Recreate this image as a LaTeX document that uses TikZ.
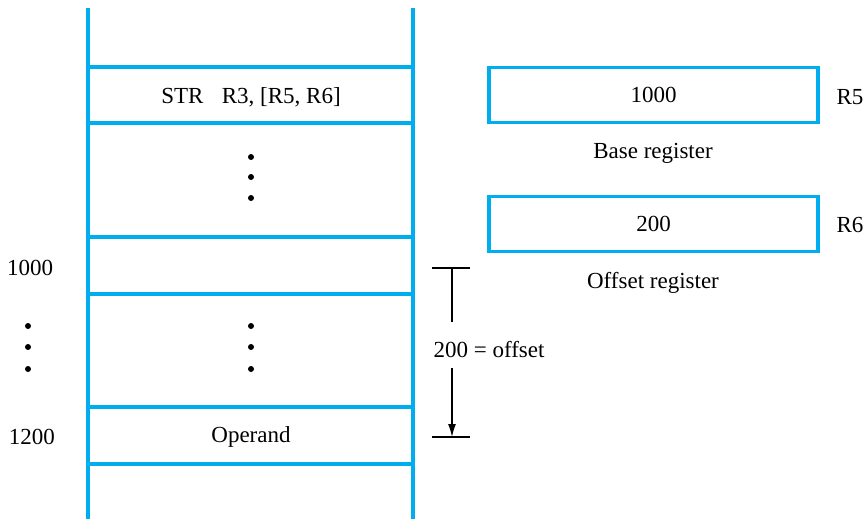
\documentclass[tikz,border=0pt]{standalone}
\usepackage{fontspec}
\setmainfont{Liberation Serif}
\usetikzlibrary{arrows.meta}
\definecolor{memblue}{HTML}{00AEEF}
\begin{document}
\begin{tikzpicture}[x=1pt,y=-1pt,
  memline/.style={draw=memblue,line width=3.5pt},
  lbl/.style={font=\fontsize{23}{26}\selectfont,inner sep=0pt,anchor=center},
  dotc/.style={circle,fill=black,inner sep=0pt,minimum size=6pt},
  dim/.style={draw=black,line width=1.3pt}]
\useasboundingbox (0,0) rectangle (865,519);
% memory columns
\draw[memline] (88,8) -- (88,519);
\draw[memline] (413,8) -- (413,519);
\foreach \y in {67,123,237,294,407,464} \draw[memline] (88,\y) -- (413,\y);
% memory contents
\node[lbl] (instr) at (251,97) {STR\hspace{0.8em}R3, [R5, R6]};
\node[dotc] (d1) at (251,157) {};
\node[dotc] (d2) at (251,177) {};
\node[dotc] (d3) at (251,198) {};
\node[dotc] (d4) at (251,326) {};
\node[dotc] (d5) at (251,347) {};
\node[dotc] (d6) at (251,369) {};
\node[lbl] (operand) at (251,437) {Operand};
% addresses
\node[lbl] (a1000) at (30,268) {1000};
\node[dotc] (l1) at (28,326) {};
\node[dotc] (l2) at (28,347) {};
\node[dotc] (l3) at (28,369) {};
\node[lbl] (a1200) at (32,437) {1200};
% registers
\node[memline,minimum width=329pt,minimum height=55pt,inner sep=0pt,font=\fontsize{23}{26}\selectfont] (r5box) at (653.5,95) {1000};
\node[lbl] (r5) at (850,97) {R5};
\node[lbl] (base) at (653,153) {Base register};
\node[memline,minimum width=329pt,minimum height=55pt,inner sep=0pt,font=\fontsize{23}{26}\selectfont] (r6box) at (653.5,224) {200};
\node[lbl] (r6) at (850,225) {R6};
\node[lbl] (offreg) at (653,283) {Offset register};
% offset dimension
\coordinate (t1) at (432,268);
\coordinate (t2) at (470,268);
\coordinate (b1) at (432,437);
\coordinate (b2) at (470,437);
\coordinate (top) at (452,268);
\coordinate (bot) at (452,437);
\node[lbl] (off) at (489,350) {200 = offset};
\draw[dim] (t1) -- (t2);
\draw[dim] (b1) -- (b2);
\draw[dim] (top) -- (452,322);
\draw[dim,-{Latex[length=13pt,width=8pt]}] (452,368) -- (bot);
\end{tikzpicture}
\end{document}
